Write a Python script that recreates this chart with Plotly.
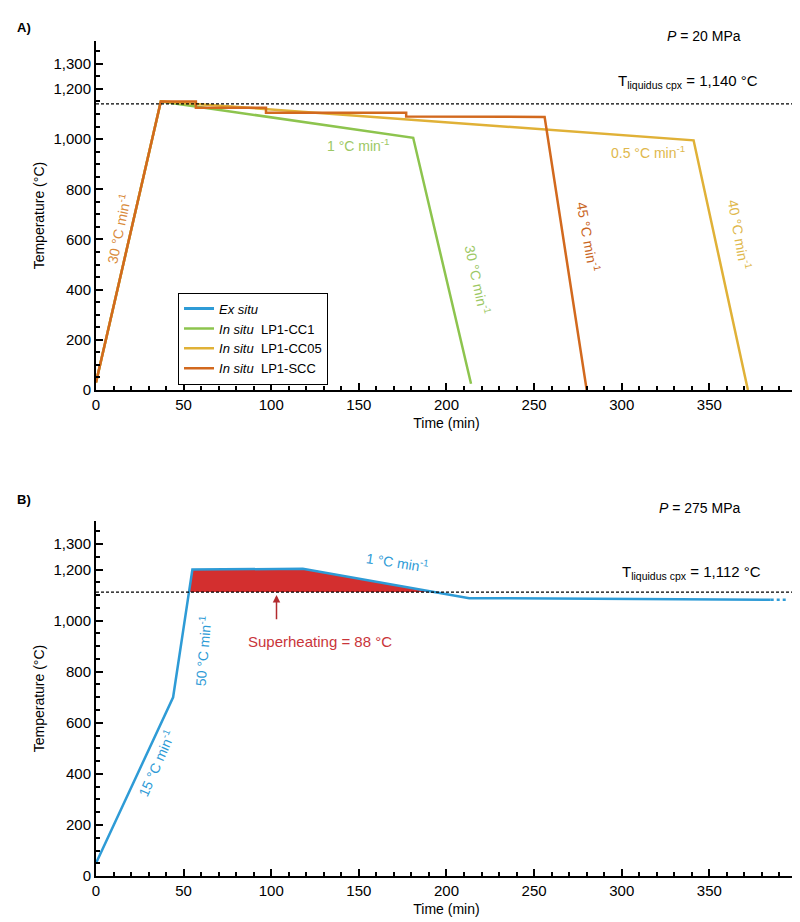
import numpy as np
import plotly.graph_objects as go
from plotly.subplots import make_subplots

# panel A data
cc1_t = [0, 37, 181, 214]
cc1_T = [30, 1150, 1005, 25]
cc05_t = [0, 37, 57, 341, 372]
cc05_T = [30, 1150, 1140, 995, 0]
scc_t = [0, 37, 57, 57, 97, 97, 177, 177, 256, 280]
scc_T = [30, 1150, 1150, 1125, 1125, 1105, 1105, 1090, 1088, 0]
liq_a = 1140

# panel B data
ex_t = [0, 44, 55, 118, 213, 385]
ex_T = [50, 700, 1200, 1203, 1088, 1082]
ex_tail_t = [385, 395]
ex_tail_T = [1082, 1082]
liq_b = 1112

y_ticks = [0, 200, 400, 600, 800, 1000, 1200, 1300]
x_ticks = [0, 50, 100, 150, 200, 250, 300, 350, 400]

BLUE = '#2E9BD6'
GREEN = '#8DC44E'
YELLOW = '#E0B137'
ORANGE = '#D2691E'
FONT = 'Liberation Sans, Arial, sans-serif'

fig = make_subplots(rows=2, cols=1)

fig.add_trace(go.Scatter(x=[None], y=[None], mode='lines', line=dict(color=BLUE, width=3),
                         name='<i>Ex situ</i>'), row=1, col=1)
fig.add_trace(go.Scatter(x=cc1_t, y=cc1_T, mode='lines', line=dict(color=GREEN, width=2.5),
                         name='<i>In situ</i>  LP1-CC1'), row=1, col=1)
fig.add_trace(go.Scatter(x=cc05_t, y=cc05_T, mode='lines', line=dict(color=YELLOW, width=2.5),
                         name='<i>In situ</i>  LP1-CC05'), row=1, col=1)
fig.add_trace(go.Scatter(x=scc_t, y=scc_T, mode='lines', line=dict(color=ORANGE, width=2.5),
                         name='<i>In situ</i>  LP1-SCC'), row=1, col=1)

# superheating fill: part of ex situ curve above liquidus
tt = np.linspace(ex_t[1], ex_t[-1], 2000)
TT = np.interp(tt, ex_t, ex_T)
mask = TT >= liq_b
ft = tt[mask]
fT = TT[mask]
fig.add_trace(go.Scatter(x=list(ft) + list(ft[::-1]), y=list(fT) + [liq_b] * len(ft),
                         fill='toself', fillcolor='#D32F2F', line=dict(width=0),
                         mode='lines', showlegend=False, hoverinfo='skip'), row=2, col=1)
fig.add_trace(go.Scatter(x=ex_t, y=ex_T, mode='lines', line=dict(color=BLUE, width=2.5),
                         showlegend=False), row=2, col=1)
fig.add_trace(go.Scatter(x=ex_tail_t, y=ex_tail_T, mode='lines', line=dict(color=BLUE, width=2.5, dash='dot'),
                         showlegend=False), row=2, col=1)

for r, liq in [(1, liq_a), (2, liq_b)]:
    fig.add_trace(go.Scatter(x=[0, 400], y=[liq, liq], mode='lines',
                             line=dict(color='black', width=1.2, dash='3px,2px'),
                             showlegend=False, hoverinfo='skip'), row=r, col=1)
    # right border line
    fig.add_trace(go.Scatter(x=[400, 400], y=[0, 1160], mode='lines',
                             line=dict(color='black', width=1.5),
                             showlegend=False, hoverinfo='skip'), row=r, col=1)

axis_common = dict(showline=True, linecolor='black', linewidth=2, showgrid=False, zeroline=False,
                   ticks='inside', ticklen=7, tickwidth=1.5, tickcolor='black',
                   tickfont=dict(size=15, color='black', family=FONT))
fig.update_xaxes(range=[0, 400.01], tickvals=x_ticks,
                 title=dict(text='Time (min)', font=dict(size=14, family=FONT), standoff=6),
                 minor=dict(dtick=10, ticks='inside', ticklen=4, tickcolor='black'), **axis_common)
fig.update_yaxes(range=[0, 1390], tickvals=y_ticks, tickformat=',',
                 title=dict(text='Temperature (°C)', font=dict(size=14, family=FONT), standoff=6),
                 minor=dict(dtick=50, ticks='inside', ticklen=4, tickcolor='black'), **axis_common)
fig.update_xaxes(domain=[0, 1])
fig.update_yaxes(domain=[0.5896, 0.985], row=1, col=1)
fig.update_yaxes(domain=[0.0385, 0.441], row=2, col=1)

ann = []
def lab(text, x, y, color, angle=0, size=13, xref='x', yref='y', **kw):
    ann.append(dict(text=text, x=x, y=y, xref=xref, yref=yref, showarrow=False,
                    textangle=angle, font=dict(size=size, color=color, family=FONT), **kw))

lab('30 °C min<sup>-1</sup>', 13, 640, '#D98A3A', -78, size=14)
lab('1 °C min<sup>-1</sup>', 150, 975, '#9CC864', size=14)
lab('30 °C min<sup>-1</sup>', 218, 440, '#9CC864', 78, size=14)
lab('45 °C min<sup>-1</sup>', 281, 610, '#C9651E', 80, size=14)
lab('0.5 °C min<sup>-1</sup>', 315, 950, '#E0B84C', size=14)
lab('40 °C min<sup>-1</sup>', 367, 620, '#E0B84C', 80, size=14)
lab('T<sub>liquidus cpx</sub> = 1,140 °C', 338, 1228, 'black', size=15)
lab('<b>A)</b>', -0.115, 1.011, 'black', size=13, xref='paper', yref='paper', xanchor='left', yanchor='top')
lab('<i>P</i> = 20 MPa', 0.923, 1.002, 'black', size=14, xref='paper', yref='paper')

lab('15 °C min<sup>-1</sup>', 34, 440, BLUE, -66, size=14, xref='x2', yref='y2')
lab('50 °C min<sup>-1</sup>', 61, 880, BLUE, -85, size=14, xref='x2', yref='y2')
lab('1 °C min<sup>-1</sup>', 172, 1228, BLUE, 9, size=14, xref='x2', yref='y2')
lab('T<sub>liquidus cpx</sub> = 1,112 °C', 340, 1190, 'black', size=15, xref='x2', yref='y2')
lab('Superheating = 88 °C', 128, 920, '#C9353A', size=15, xref='x2', yref='y2')
lab('<b>B)</b>', -0.115, 0.476, 'black', size=13, xref='paper', yref='paper', xanchor='left', yanchor='top')
lab('<i>P</i> = 275 MPa', 0.923, 0.456, 'black', size=14, xref='paper', yref='paper')
ann.append(dict(x=103, y=1100, ax=103, ay=1000, xref='x2', yref='y2', axref='x2', ayref='y2',
                showarrow=True, arrowhead=2, arrowsize=1, arrowwidth=1.5, arrowcolor='#B22A2E', text=''))

fig.update_layout(
    width=800, height=922, plot_bgcolor='white', paper_bgcolor='white',
    margin=dict(l=88, r=11, t=20, b=20),
    font=dict(family=FONT, color='black'),
    annotations=ann,
    legend=dict(x=0.117, y=0.70, xanchor='left', yanchor='top', bordercolor='black', borderwidth=1,
                font=dict(size=13, family=FONT), bgcolor='white', tracegroupgap=0),
)

fig.write_html('out.html')
